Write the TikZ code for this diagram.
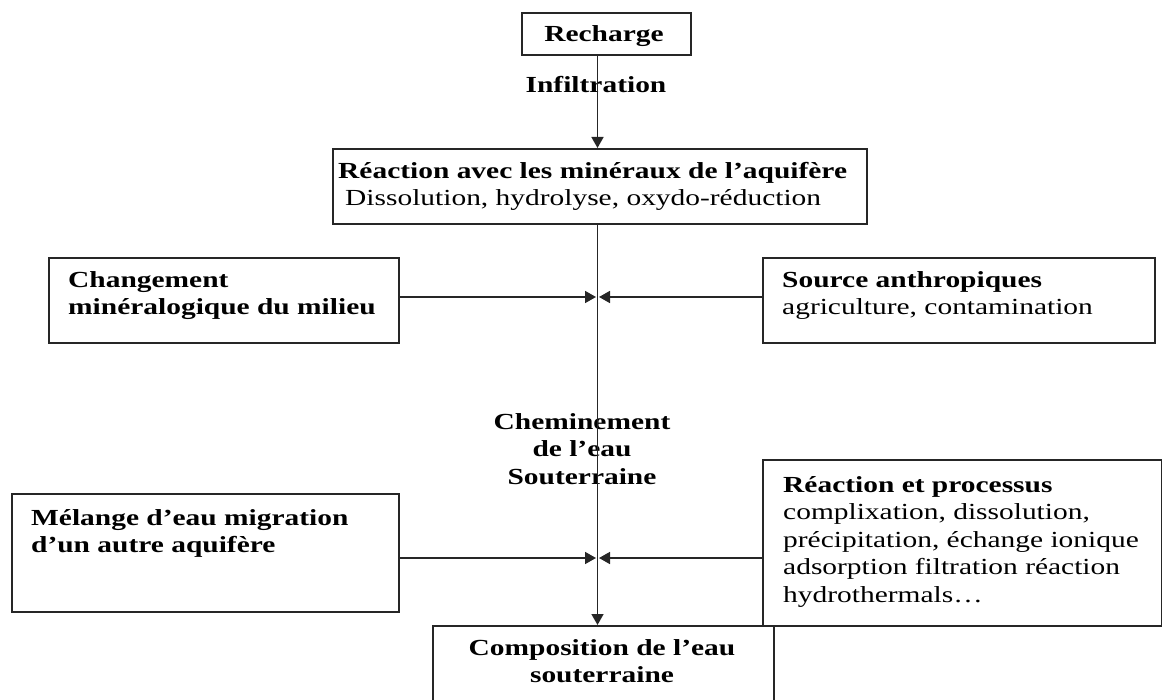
\documentclass[tikz,border=0pt]{standalone}
\usepackage{fontspec}
\setmainfont{Liberation Serif}[FakeStretch=1.28]
\usetikzlibrary{arrows.meta}
\newcommand\fstrut{\rule{0pt}{18pt}}
\begin{document}
\begin{tikzpicture}[x=1pt,y=-1pt,
  box/.style={draw=black!85, line width=1.7pt, rectangle, inner sep=0pt, anchor=north west},
  txt/.style={inner sep=0pt, font=\fontsize{23}{27.5}\selectfont, text=black},
  tl/.style={txt, anchor=north west, align=left},
  tc/.style={txt, anchor=north, align=center},
  arr/.style={draw=black!85, line width=1.6pt, -{Triangle[length=11pt,width=12pt]}},
]
\useasboundingbox (0,0) rectangle (1162,700);
\clip (0,0) rectangle (1162,700);

% boxes
\node[box, minimum width=169pt, minimum height=42pt] (recharge) at (521,12) {};
\node[box, minimum width=534pt, minimum height=75pt] (reaction) at (332,148) {};
\node[box, minimum width=350pt, minimum height=85pt] (chang) at (48,257) {};
\node[box, minimum width=392pt, minimum height=85pt] (source) at (762,257) {};
\node[box, minimum width=387pt, minimum height=118pt] (melange) at (11,493) {};
\node[box, minimum width=399pt, minimum height=166pt] (reacproc) at (762,459) {};
\node[box, minimum width=341pt, minimum height=100pt] (compo) at (432,625) {};

% texts
\node[tc] (rechargeT) at (604,23) {\fstrut\textbf{Recharge}};
\node[tc] (infil) at (596,74) {\fstrut\textbf{Infiltration}};
\node[tl] (reactionT) at (338,160) {\fstrut\textbf{Réaction avec les minéraux de l’aquifère}\\\hspace*{7pt}Dissolution, hydrolyse, oxydo-réduction};
\node[tl] (changT) at (68,269) {\fstrut\textbf{Changement}\\\textbf{minéralogique du milieu}};
\node[tl] (sourceT) at (782,269) {\fstrut\textbf{Source anthropiques}\\agriculture, contamination};
\node[tc] (chemin) at (582,411) {\fstrut\textbf{Cheminement}\\\textbf{de l’eau}\\\textbf{Souterraine}};
\node[tl] (melangeT) at (31,507) {\fstrut\textbf{Mélange d’eau migration}\\\textbf{d’un autre aquifère}};
\node[tl] (reacprocT) at (783,474) {\fstrut\textbf{Réaction et processus}\\complixation, dissolution,\\précipitation, échange ionique\\adsorption filtration réaction\\hydrothermals…};
\node[tc] (compoT) at (602,637) {\fstrut\textbf{Composition de l’eau}\\\textbf{souterraine}};

% connectors
\coordinate (vx) at (597.5,0);
\coordinate (j1L) at (596,297);
\coordinate (j1R) at (599,297);
\coordinate (j2L) at (596,558);
\coordinate (j2R) at (599,558);
\draw[arr] (recharge.south -| vx) -- (reaction.north -| vx);
\draw[arr] (reaction.south -| vx) -- (compo.north -| vx);
\draw[arr] (chang.east |- j1L) -- (j1L);
\draw[arr] (source.west |- j1R) -- (j1R);
\draw[arr] (melange.east |- j2L) -- (j2L);
\draw[arr] (reacproc.west |- j2R) -- (j2R);
\end{tikzpicture}
\end{document}
